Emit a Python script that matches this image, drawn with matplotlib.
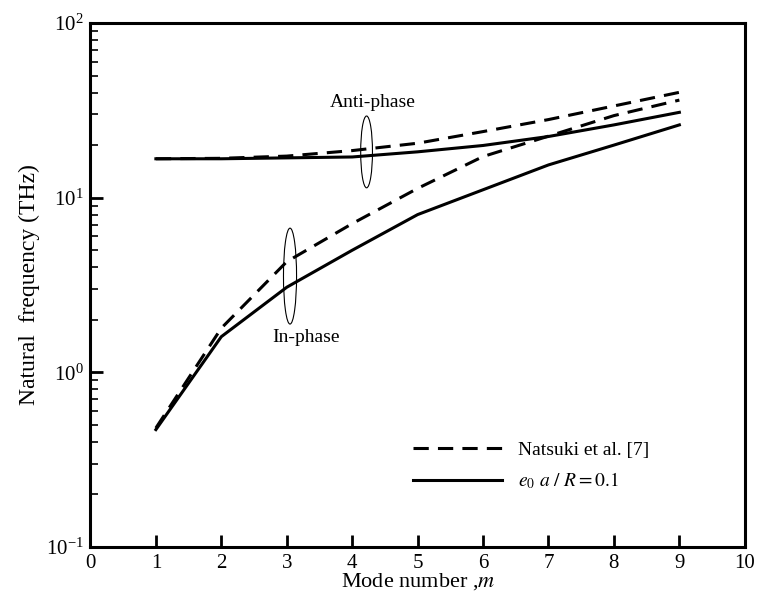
"""Natural frequency vs mode number (in-phase / anti-phase)"""

import numpy as np
import matplotlib
matplotlib.use('Agg')
import matplotlib.pyplot as plt
from matplotlib.patches import Ellipse
from matplotlib.ticker import LogLocator, LogFormatterMathtext, NullFormatter

plt.rcParams['font.family'] = 'Liberation Serif'
plt.rcParams['mathtext.fontset'] = 'stix'

mode = [1, 2, 3, 4, 5, 6, 7, 8, 9]

# Natsuki et al. [7]
anti_natsuki = [16.7, 16.8, 17.3, 18.6, 20.5, 23.9, 28.0, 33.5, 40.1]
in_natsuki = [0.48, 1.79, 4.3, 7.1, 11.3, 17.2, 22.5, 29.5, 36.2]

# e0 a / R = 0.1
anti_nonlocal = [16.7, 16.7, 16.9, 17.1, 18.3, 19.9, 22.4, 26.1, 30.8]
in_nonlocal = [0.47, 1.6, 3.07, 5.0, 8.0, 11.1, 15.4, 20.0, 26.1]

dash = (0, (5, 3))

fig = plt.figure(figsize=(7.6, 5.96), dpi=100)
ax = fig.add_axes([0.119, 0.0822, 0.861, 0.8792])

ax.plot(mode, anti_natsuki, color='black', lw=2.2, ls=dash, label='Natsuki et al. [7]')
ax.plot(mode, anti_nonlocal, color='black', lw=2.2, label=r'$e_0\ a\ /\ R = 0.1$')
ax.plot(mode, in_natsuki, color='black', lw=2.2, ls=dash)
ax.plot(mode, in_nonlocal, color='black', lw=2.2)

ax.set_yscale('log')
ax.set_xlim(0, 10)
ax.set_ylim(0.1, 100)
ax.set_xticks(range(0, 11))
ax.yaxis.set_major_locator(LogLocator(base=10))
ax.yaxis.set_major_formatter(LogFormatterMathtext())
ax.yaxis.set_minor_locator(LogLocator(base=10, subs=np.arange(2, 10)))
ax.yaxis.set_minor_formatter(NullFormatter())

for s in ax.spines.values():
    s.set_linewidth(2.2)
ax.tick_params(which='major', direction='in', length=9, width=2, labelsize=15, pad=5)
ax.tick_params(which='minor', direction='in', length=6, width=1.2)
ax.tick_params(axis='x', which='minor', bottom=False)

ax.set_xlabel('Mode number ,$m$', fontsize=16, labelpad=-1)
ax.set_ylabel('Natural  frequency (THz)', fontsize=17, labelpad=4)

# ellipses marking the two branches
ax.add_patch(Ellipse((0.422, 0.754), 0.018, 0.137, transform=ax.transAxes,
                     fill=False, lw=0.8, color='black'))
ax.add_patch(Ellipse((0.305, 0.517), 0.020, 0.183, transform=ax.transAxes,
                     fill=False, lw=0.8, color='black'))
ax.text(0.432, 0.848, 'Anti-phase', transform=ax.transAxes, fontsize=14,
        ha='center', va='center')
ax.text(0.330, 0.400, 'In-phase', transform=ax.transAxes, fontsize=14,
        ha='center', va='center')

ax.legend(loc='lower right', bbox_to_anchor=(0.88, 0.073), frameon=False,
          fontsize=14, handlelength=4.6, handletextpad=0.8, labelspacing=0.6)

fig.savefig('out.png', dpi=100)
